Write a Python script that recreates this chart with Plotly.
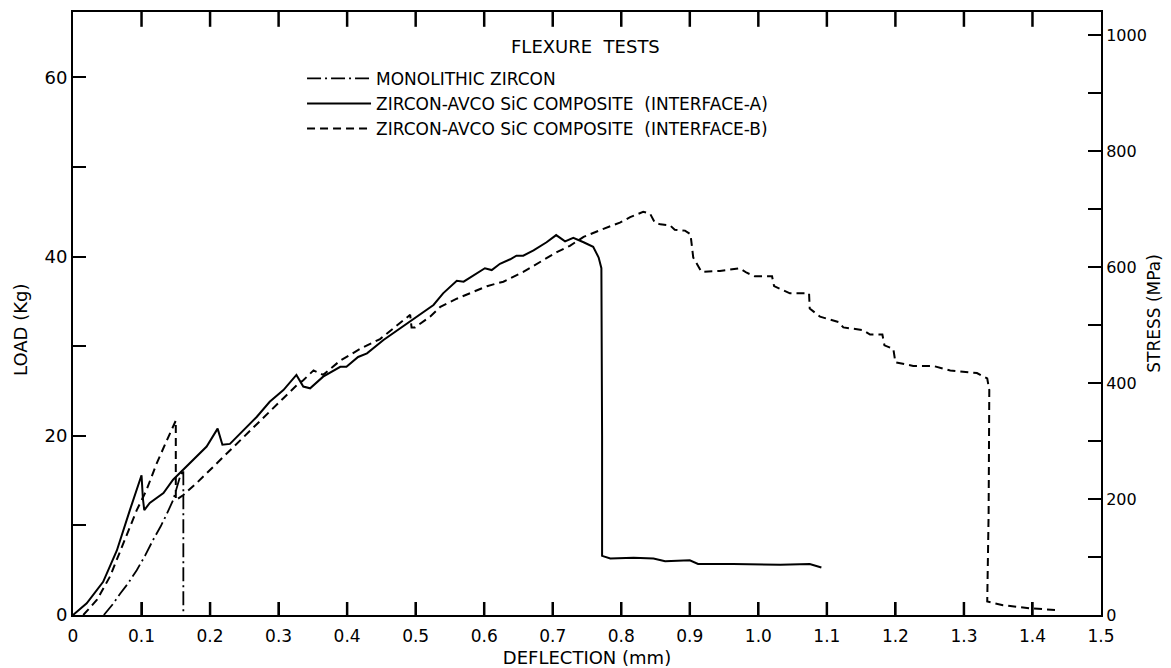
import plotly.graph_objects as go

# ---- data (deflection in mm, load in kg) ----
mono_x = [0.045, 0.058, 0.069, 0.081, 0.093, 0.105, 0.117, 0.128, 0.137, 0.146, 0.156, 0.161, 0.161]
mono_y = [0.0, 1.2, 2.4, 3.6, 5.0, 6.6, 8.4, 9.9, 11.3, 12.8, 15.4, 16.2, 0.0]

ia_x = [0.0, 0.02, 0.044, 0.064, 0.083, 0.100, 0.102, 0.104, 0.112, 0.132, 0.146, 0.161,
        0.180, 0.195, 0.211, 0.218, 0.229, 0.249, 0.268, 0.287, 0.307, 0.326, 0.336,
        0.346, 0.365, 0.390, 0.399, 0.416, 0.429, 0.453, 0.477, 0.497, 0.526, 0.540,
        0.560, 0.570, 0.584, 0.601, 0.611, 0.623, 0.638, 0.647, 0.657, 0.672, 0.691,
        0.705, 0.718, 0.730, 0.745, 0.759, 0.767, 0.771, 0.772, 0.772, 0.784, 0.818,
        0.847, 0.864, 0.900, 0.912, 0.963, 1.032, 1.075, 1.092]
ia_y = [0.0, 1.3, 3.7, 7.2, 11.7, 15.6, 13.0, 11.7, 12.5, 13.6, 15.1, 16.2,
        17.7, 18.8, 20.8, 19.0, 19.1, 20.6, 22.1, 23.8, 25.1, 26.8, 25.5,
        25.3, 26.6, 27.7, 27.7, 28.8, 29.2, 30.7, 32.0, 33.1, 34.6, 35.9,
        37.3, 37.2, 37.9, 38.7, 38.5, 39.2, 39.7, 40.1, 40.1, 40.7, 41.6,
        42.4, 41.7, 42.1, 41.6, 41.1, 39.9, 38.7, 20.0, 6.6, 6.3, 6.4,
        6.3, 6.0, 6.1, 5.7, 5.7, 5.6, 5.7, 5.3]

ib_x = [0.015, 0.035, 0.054, 0.073, 0.093, 0.107, 0.122, 0.137, 0.150, 0.150, 0.161,
        0.180, 0.200, 0.219, 0.234, 0.258, 0.283, 0.307, 0.326, 0.336, 0.351, 0.365,
        0.390, 0.419, 0.448, 0.477, 0.492, 0.494, 0.499, 0.521, 0.536, 0.560, 0.579,
        0.604, 0.628, 0.657, 0.686, 0.706, 0.725, 0.745, 0.774, 0.798, 0.813, 0.832,
        0.842, 0.849, 0.857, 0.871, 0.878, 0.893, 0.901, 0.905, 0.917, 0.944, 0.973,
        0.983, 0.995, 1.020, 1.023, 1.046, 1.074, 1.075, 1.090, 1.117, 1.124, 1.153,
        1.163, 1.181, 1.184, 1.197, 1.200, 1.226, 1.255, 1.280, 1.319, 1.334, 1.337,
        1.336, 1.334, 1.357, 1.396, 1.433]
ib_y = [0.0, 1.7, 4.3, 8.0, 11.7, 13.9, 16.9, 19.5, 21.7, 12.8, 13.4,
        14.7, 16.2, 17.7, 18.8, 20.6, 22.4, 24.2, 25.6, 26.2, 27.3, 26.8,
        28.4, 29.7, 30.8, 32.6, 33.5, 32.1, 32.1, 33.3, 34.4, 35.3, 35.9,
        36.7, 37.2, 38.3, 39.6, 40.5, 41.2, 42.2, 43.1, 43.8, 44.4, 45.0,
        44.8, 43.8, 43.6, 43.5, 43.0, 42.9, 42.5, 39.9, 38.3, 38.4, 38.7,
        38.2, 37.8, 37.8, 36.7, 35.9, 35.9, 34.2, 33.3, 32.7, 32.1, 31.8,
        31.3, 31.3, 30.1, 29.7, 28.2, 27.8, 27.8, 27.3, 27.0, 26.4, 25.1,
        11.3, 1.5, 1.1, 0.75, 0.56]

x_tickvals = [0.0, 0.1, 0.2, 0.3, 0.4, 0.5, 0.6, 0.7, 0.8, 0.9, 1.0, 1.1, 1.2, 1.3, 1.4, 1.5]
x_ticktext = ["0", "0.1", "0.2", "0.3", "0.4", "0.5", "0.6", "0.7", "0.8", "0.9",
              "1.0", "1.1", "1.2", "1.3", "1.4", "1.5"]
load_tickvals = [0, 10, 20, 30, 40, 50, 60]
load_ticktext = ["0", "", "20", "", "40", "", "60"]
stress_tickvals = [0, 100, 200, 300, 400, 500, 600, 700, 800, 900, 1000]
stress_ticktext = ["0", "", "200", "", "400", "", "600", "", "800", "", "1000"]

names = ["MONOLITHIC ZIRCON",
         "ZIRCON-AVCO SiC COMPOSITE  (INTERFACE-A)",
         "ZIRCON-AVCO SiC COMPOSITE  (INTERFACE-B)"]

FONT = "DejaVu Sans"
X_RANGE = [0, 1.5]
PLOT_H = 668 - 12 - 53          # plot area height in px
TICK_LEN = 13

fig = go.Figure()
fig.add_trace(go.Scatter(x=mono_x, y=mono_y, mode="lines", name=names[0],
                         line=dict(color="black", width=1.8, dash="14px,4px,2px,4px")))
fig.add_trace(go.Scatter(x=ia_x, y=ia_y, mode="lines", name=names[1],
                         line=dict(color="black", width=2.0)))
fig.add_trace(go.Scatter(x=ib_x, y=ib_y, mode="lines", name=names[2],
                         line=dict(color="black", width=2.0, dash="8px,5px")))
# empty trace so the stress axis (right) is created
fig.add_trace(go.Scatter(x=[None], y=[None], yaxis="y2", mode="lines",
                         showlegend=False, hoverinfo="skip"))

tick_common = dict(ticks="inside", ticklen=TICK_LEN, tickwidth=2, tickcolor="black",
                   showline=True, linewidth=2, linecolor="black",
                   showgrid=False, zeroline=False, automargin=False)

fig.update_layout(
    width=1171, height=668,
    margin=dict(l=73, r=70, t=12, b=53),
    paper_bgcolor="white", plot_bgcolor="white",
    font=dict(family=FONT, color="black", size=17),
    showlegend=True,
    legend=dict(x=0.2228, y=0.919, xanchor="left", yanchor="top",
                bgcolor="rgba(0,0,0,0)", font=dict(size=17, family=FONT),
                itemwidth=64, tracegroupgap=0),
    xaxis=dict(range=X_RANGE, tickvals=x_tickvals, ticktext=x_ticktext,
               tickfont=dict(size=17), ticklabelstandoff=5, mirror=True,
               title=dict(text="DEFLECTION (mm)", font=dict(size=18), standoff=6),
               **tick_common),
    yaxis=dict(range=[0, 67.3], tickvals=load_tickvals, ticktext=load_ticktext,
               tickfont=dict(size=18), **tick_common),
    yaxis2=dict(range=[0, 1040], overlaying="y", side="right", anchor="x",
                tickvals=stress_tickvals, ticktext=stress_ticktext,
                tickfont=dict(size=16),
                title=dict(text="STRESS (MPa)", font=dict(size=17), standoff=2),
                **tick_common),
)

# deflection tick marks on the bottom and top frame (inward), placed at the tick values
tl = TICK_LEN / PLOT_H
for v in x_tickvals[1:-1]:
    fig.add_shape(type="line", xref="x", yref="paper", x0=v, x1=v, y0=0, y1=tl,
                  line=dict(color="black", width=2.5), layer="above")
    fig.add_shape(type="line", xref="x", yref="paper", x0=v, x1=v, y0=1, y1=1 - tl - 0.003,
                  line=dict(color="black", width=2.5), layer="above")

# left axis title placed slightly below the axis centre, as in the original
fig.add_annotation(text="LOAD (Kg)", xref="paper", yref="paper",
                   x=-0.0516, y=0.4726, textangle=-90, showarrow=False,
                   xanchor="center", yanchor="middle", font=dict(size=18, family=FONT))
fig.add_annotation(text="FLEXURE  TESTS", xref="paper", yref="paper",
                   x=0.499, y=0.9436, yanchor="middle", showarrow=False,
                   font=dict(size=18, family=FONT))

fig.write_html("out.html")
